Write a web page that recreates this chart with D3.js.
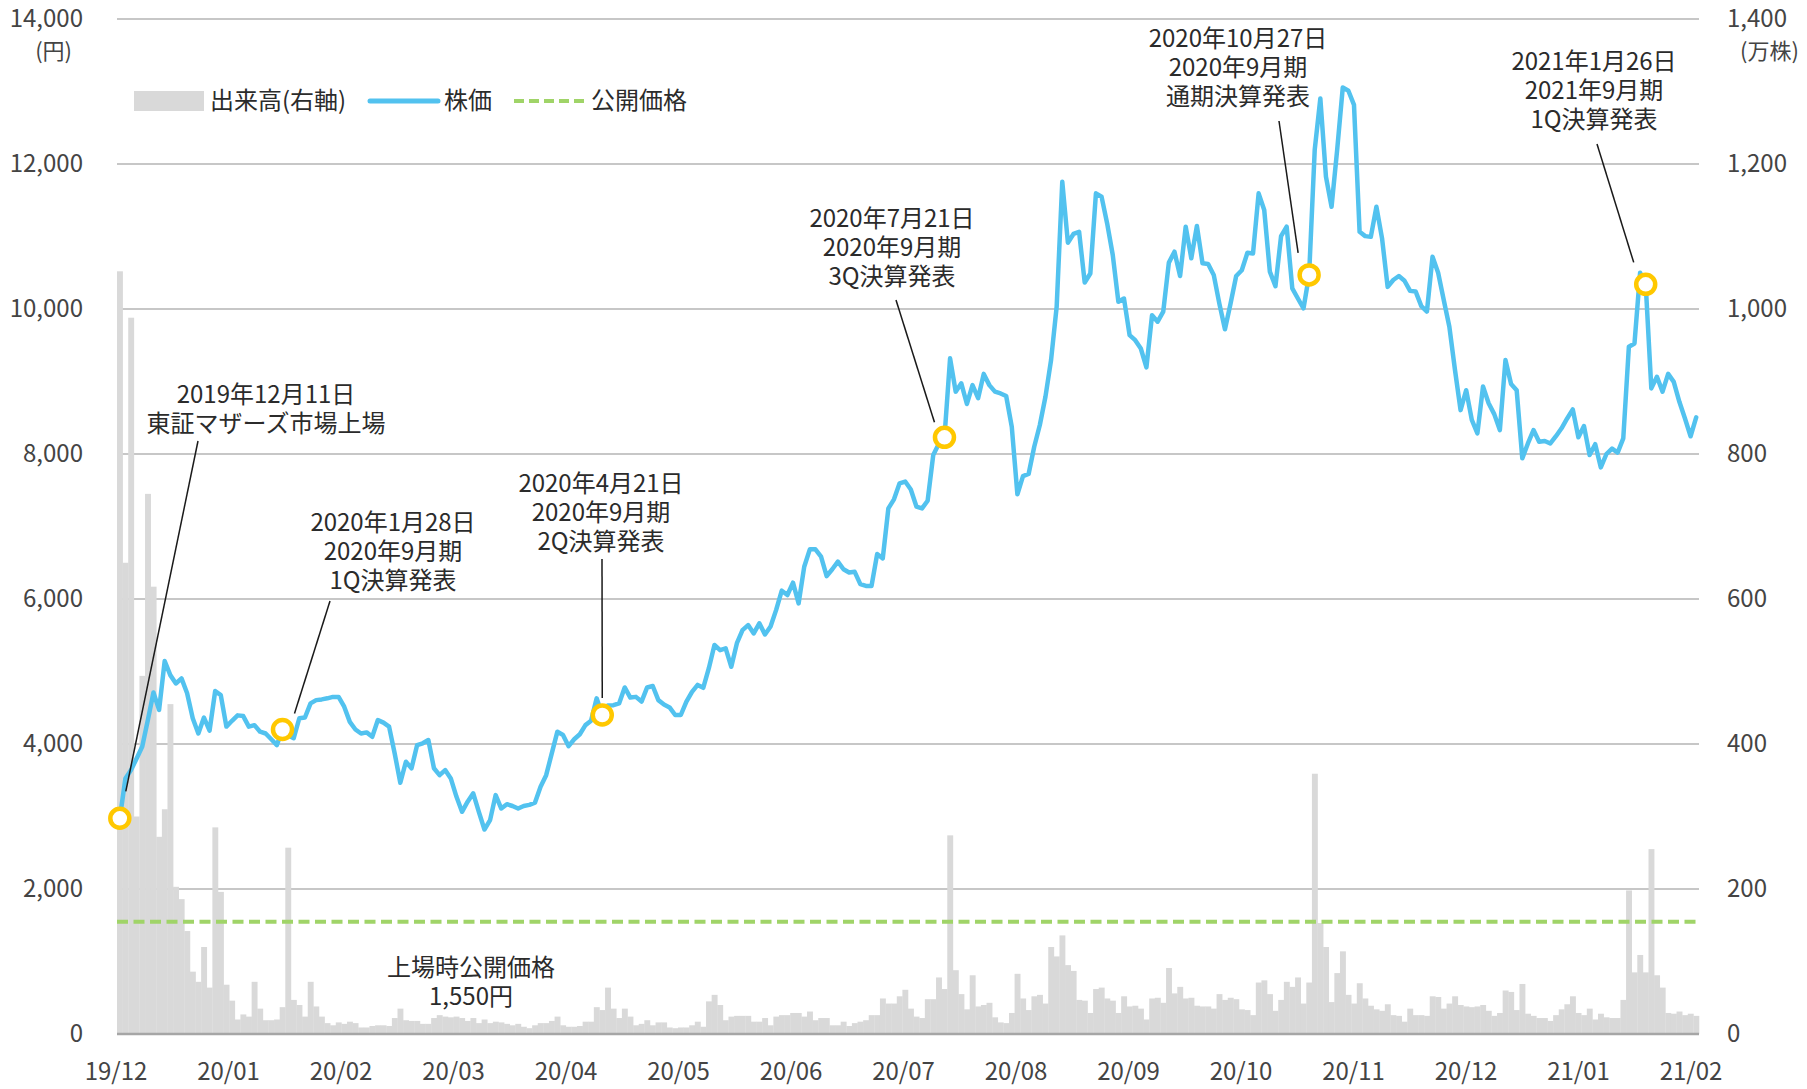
<!DOCTYPE html>
<html lang="ja">
<head>
<meta charset="utf-8">
<title>株価・出来高推移</title>
<script src="https://d3js.org/d3.v7.min.js"></script>
<style>
body { margin: 0; background: #fff; }
svg { display: block; font-family: "Noto Sans CJK JP", "Noto Sans", sans-serif; }
.tick { font-size: 24px; fill: #444; }
.note { font-size: 24px; fill: #2b2b2b; }
</style>
</head>
<body>
<svg width="1807" height="1089"></svg>
<script>

// ---- data ----
var months = ["19/12", "20/01", "20/02", "20/03", "20/04", "20/05", "20/06", "20/07",
  "20/08", "20/09", "20/10", "20/11", "20/12", "21/01", "21/02"];

// 株価 (円), one value per trading day from 2019/12/11
var price = [
  2975, 3525, 3640, 3800, 3965, 4330, 4710, 4470, 5145, 4950,
  4835, 4905, 4700, 4355, 4145, 4365, 4185, 4730, 4675, 4240,
  4320, 4395, 4385, 4240, 4260, 4170, 4145, 4065, 3985, 4200,
  4120, 4080, 4355, 4365, 4560, 4605, 4615, 4630, 4650, 4650,
  4515, 4305, 4200, 4145, 4160, 4100, 4330, 4295, 4240, 3870,
  3465, 3755, 3665, 3985, 4010, 4055, 3665, 3570, 3640, 3525,
  3275, 3065, 3205, 3320, 3065, 2820, 2950, 3295, 3110, 3170,
  3145, 3110, 3145, 3160, 3190, 3410, 3570, 3870, 4170, 4125,
  3970, 4065, 4135, 4260, 4320, 4630, 4400, 4530, 4535, 4560,
  4780, 4640, 4650, 4585, 4780, 4800, 4605, 4545, 4505, 4400,
  4400, 4585, 4720, 4815, 4775, 5045, 5365, 5295, 5320, 5065,
  5390, 5570, 5640, 5525, 5665, 5510, 5620, 5850, 6115, 6055,
  6225, 5940, 6445, 6685, 6685, 6585, 6315, 6410, 6515, 6410,
  6365, 6375, 6205, 6180, 6180, 6620, 6560, 7250, 7375, 7595,
  7620, 7510, 7275, 7250, 7355, 7985, 8140, 8230, 9320, 8860,
  8975, 8690, 8950, 8770, 9105, 8950, 8860, 8835, 8800, 8375,
  7445, 7695, 7725, 8100, 8400, 8790, 9295, 10030, 11755, 10915,
  11035, 11065, 10365, 10490, 11595, 11550, 11180, 10745, 10100, 10145,
  9640, 9570, 9455, 9195, 9915, 9825, 9965, 10640, 10790, 10455,
  11135, 10700, 11145, 10630, 10620, 10470, 10075, 9720, 10075, 10455,
  10535, 10775, 10765, 11595, 11365, 10515, 10315, 11005, 11135, 10285,
  10145, 10010, 10470, 12195, 12905, 11825, 11410, 12195, 13055, 13010,
  12815, 11065, 11005, 10995, 11410, 10975, 10305, 10400, 10455, 10390,
  10250, 10240, 10040, 9965, 10720, 10500, 10125, 9755, 9160, 8605,
  8880, 8470, 8285, 8930, 8700, 8550, 8330, 9295, 8965, 8880,
  7940, 8145, 8330, 8170, 8180, 8145, 8245, 8355, 8490, 8615,
  8230, 8385, 7985, 8135, 7815, 8000, 8075, 8020, 8215, 9480,
  9525, 10500, 10340, 8905, 9065, 8860, 9105, 8995, 8720, 8490,
  8245, 8505
];

// 出来高 (万株), same days
var volume = [
  1052, 650, 988, 300, 494, 745, 617, 272, 310, 455,
  203, 186, 142, 86, 72, 120, 64, 285, 196, 68,
  46, 20, 27, 24, 72, 35, 19, 19, 20, 37,
  257, 47, 40, 24, 72, 38, 24, 15, 12, 16,
  14, 17, 15, 9, 9, 11, 12, 12, 11, 22,
  35, 19, 18, 18, 14, 14, 22, 26, 24, 23,
  24, 22, 18, 22, 15, 20, 15, 17, 16, 14,
  12, 14, 10, 8, 12, 15, 15, 18, 24, 12,
  10, 10, 11, 17, 17, 37, 33, 64, 35, 22,
  35, 24, 12, 14, 19, 12, 16, 16, 9, 8,
  9, 9, 12, 17, 10, 45, 54, 40, 19, 24,
  25, 25, 25, 17, 17, 22, 12, 24, 26, 26,
  29, 29, 24, 31, 19, 22, 22, 12, 12, 17,
  11, 15, 17, 19, 26, 26, 49, 42, 42, 52,
  61, 35, 24, 22, 48, 48, 78, 62, 274, 88,
  55, 34, 81, 38, 40, 43, 23, 16, 15, 29,
  83, 49, 33, 52, 54, 42, 120, 107, 136, 95,
  87, 47, 46, 29, 62, 64, 49, 46, 29, 52,
  38, 39, 35, 20, 49, 50, 43, 91, 56, 65,
  49, 50, 39, 38, 38, 35, 55, 47, 50, 48,
  34, 33, 26, 71, 74, 55, 32, 47, 72, 65,
  78, 42, 71, 359, 153, 120, 44, 84, 114, 54,
  42, 70, 49, 39, 34, 32, 41, 26, 25, 17,
  35, 26, 26, 25, 52, 51, 35, 42, 52, 40,
  38, 37, 38, 40, 32, 25, 29, 60, 58, 33,
  69, 28, 25, 22, 22, 18, 26, 34, 41, 52,
  29, 26, 35, 20, 28, 23, 22, 22, 47, 198,
  85, 109, 85, 255, 81, 64, 29, 28, 31, 26,
  28, 25
];

var ipoPrice = 1550;
var priceTicks = [0, 2000, 4000, 6000, 8000, 10000, 12000, 14000];
var volumeTicks = [0, 200, 400, 600, 800, 1000, 1200, 1400];

// event days (index into price) and their notes
var eventIndex = [0, 29, 86, 147, 212, 272];
var eventText = [
  ["2019年12月11日", "東証マザーズ市場上場"],
  ["2020年1月28日", "2020年9月期", "1Q決算発表"],
  ["2020年4月21日", "2020年9月期", "2Q決算発表"],
  ["2020年7月21日", "2020年9月期", "3Q決算発表"],
  ["2020年10月27日", "2020年9月期", "通期決算発表"],
  ["2021年1月26日", "2021年9月期", "1Q決算発表"]
];

// ---- layout ----
var svg = d3.select("svg");
var plotLeft = 117, plotRight = 1699, plotTop = 19, plotBottom = 1034;
var blue = "#52c2ef", green = "#a0d468", yellow = "#ffc800", barGray = "#d9d9d9";

var x = d3.scaleBand().domain(d3.range(price.length)).range([plotLeft, plotRight]).padding(0);
var xMonth = d3.scalePoint().domain(months).range([116, 1691]);
var y = d3.scaleLinear().domain([0, 14000]).range([plotBottom, plotTop]);
var yv = d3.scaleLinear().domain([0, 1400]).range([plotBottom, plotTop]);
var cx = function(i) { return x(i) + x.bandwidth() / 2; };

// grid lines
svg.append("g").selectAll("line")
  .data(priceTicks.slice(1))
  .enter().append("line")
    .attr("x1", plotLeft).attr("x2", plotRight)
    .attr("y1", function(d) { return y(d); })
    .attr("y2", function(d) { return y(d); })
    .attr("stroke", "#b4b4b4")
    .attr("stroke-width", 1.5);

// volume bars
svg.append("g").selectAll("rect")
  .data(volume)
  .enter().append("rect")
    .attr("x", function(d, i) { return x(i); })
    .attr("width", x.bandwidth() + 0.3)
    .attr("y", function(d) { return yv(d); })
    .attr("height", function(d) { return plotBottom - yv(d); })
    .attr("fill", barGray);

// base line
svg.append("line")
  .attr("x1", plotLeft).attr("x2", plotRight)
  .attr("y1", plotBottom).attr("y2", plotBottom)
  .attr("stroke", "#a6a6a6").attr("stroke-width", 2.5);

// offering price line
svg.append("line")
  .attr("x1", plotLeft).attr("x2", plotRight)
  .attr("y1", y(ipoPrice)).attr("y2", y(ipoPrice))
  .attr("stroke", green).attr("stroke-width", 4)
  .attr("stroke-dasharray", "11,5.5");

// price line
svg.append("path")
  .datum(price)
  .attr("fill", "none")
  .attr("stroke", blue)
  .attr("stroke-width", 4.5)
  .attr("stroke-linejoin", "round")
  .attr("stroke-linecap", "round")
  .attr("d", d3.line().x(function(d, i) { return cx(i); }).y(function(d) { return y(d); }));

// axis labels
svg.append("g").selectAll("text")
  .data(priceTicks)
  .enter().append("text")
    .attr("class", "tick")
    .attr("x", 83).attr("y", function(d) { return y(d); })
    .attr("dy", "0.35em")
    .attr("text-anchor", "end")
    .text(d3.format(","));
svg.append("g").selectAll("text")
  .data(volumeTicks)
  .enter().append("text")
    .attr("class", "tick")
    .attr("x", 1727).attr("y", function(d) { return yv(d); })
    .attr("dy", "0.35em")
    .text(d3.format(","));
svg.append("text").attr("class", "tick").style("font-size", "22px")
  .attr("x", 72).attr("y", 51).attr("dy", "0.35em").attr("text-anchor", "end").text("(円)");
svg.append("text").attr("class", "tick").style("font-size", "22px")
  .attr("x", 1740).attr("y", 51).attr("dy", "0.35em").text("(万株)");

svg.append("g").selectAll("text")
  .data(months)
  .enter().append("text")
    .attr("class", "tick")
    .attr("x", function(d) { return xMonth(d); })
    .attr("y", 1072).attr("dy", "0.35em")
    .attr("text-anchor", "middle")
    .text(function(d) { return d; });

// offering price note
svg.append("text").attr("class", "note").attr("text-anchor", "middle")
  .selectAll("tspan")
  .data(["上場時公開価格", d3.format(",")(ipoPrice) + "円"])
  .enter().append("tspan")
    .attr("x", 471)
    .attr("y", function(d, i) { return 968 + i * 29; })
    .attr("dy", "0.35em")
    .text(function(d) { return d; });

// event notes: text centre, first line y, leader start, leader end offset from point
var noteLayout = [
  { tx: 266, ty: 395, from: [198, 441], off: [6, -27] },
  { tx: 393, ty: 523, from: [330, 601], off: [12, -16] },
  { tx: 601, ty: 484, from: [602, 559], off: [0, -17] },
  { tx: 892, ty: 219, from: [896, 300], off: [-10, -15] },
  { tx: 1238, ty: 39, from: [1279, 121], off: [-11, -22] },
  { tx: 1594, ty: 62, from: [1597, 144], off: [-12, -22] }
];

var notes = svg.append("g");
eventIndex.forEach(function(idx, k) {
  var L = noteLayout[k];
  var px = cx(idx), py = y(price[idx]);
  notes.append("line")
    .attr("x1", L.from[0]).attr("y1", L.from[1])
    .attr("x2", px + L.off[0]).attr("y2", py + L.off[1])
    .attr("stroke", "#1a1a1a").attr("stroke-width", 1.5);
  notes.append("text").attr("class", "note").attr("text-anchor", "middle")
    .selectAll("tspan")
    .data(eventText[k])
    .enter().append("tspan")
      .attr("x", L.tx)
      .attr("y", function(d, i) { return L.ty + i * 29; })
      .attr("dy", "0.35em")
      .text(function(d) { return d; });
});

// event markers
svg.append("g").selectAll("circle")
  .data(eventIndex)
  .enter().append("circle")
    .attr("cx", function(d) { return cx(d); })
    .attr("cy", function(d) { return y(price[d]); })
    .attr("r", 9.5)
    .attr("fill", "#fff")
    .attr("stroke", yellow)
    .attr("stroke-width", 4.5);

// legend
var lg = svg.append("g").attr("class", "note");
lg.append("rect").attr("x", 134).attr("y", 91).attr("width", 70).attr("height", 20).attr("fill", barGray);
lg.append("text").attr("x", 210).attr("y", 101).attr("dy", "0.35em").text("出来高(右軸)");
lg.append("line").attr("x1", 370).attr("x2", 438).attr("y1", 101).attr("y2", 101)
  .attr("stroke", blue).attr("stroke-width", 5).attr("stroke-linecap", "round");
lg.append("text").attr("x", 444).attr("y", 101).attr("dy", "0.35em").text("株価");
lg.append("line").attr("x1", 514).attr("x2", 584).attr("y1", 101).attr("y2", 101)
  .attr("stroke", green).attr("stroke-width", 4).attr("stroke-dasharray", "10,5");
lg.append("text").attr("x", 591).attr("y", 101).attr("dy", "0.35em").text("公開価格");

</script>
</body>
</html>
